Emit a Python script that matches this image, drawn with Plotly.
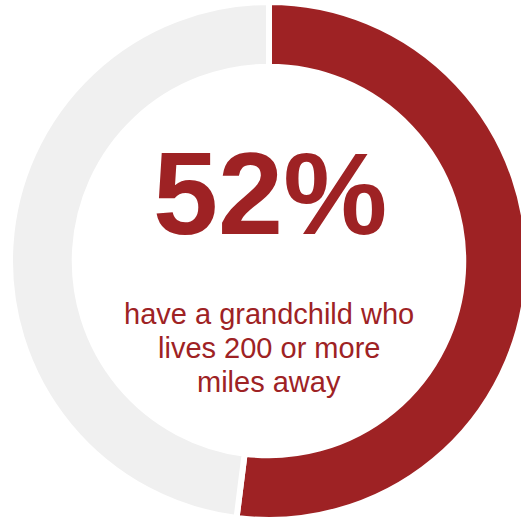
import plotly.graph_objects as go

labels = ["200+ miles away", "Other"]
values = [52, 48]
colors = ["#9E2224", "#F0F0F0"]
headline = "52%"
sub_lines = ["have a grandchild who", "lives 200 or more", "miles away"]

W, H = 530, 522
cx, cy, R = 269, 261, 259

fig = go.Figure(go.Pie(
    labels=labels, values=values, sort=False, direction="clockwise", rotation=0,
    hole=0.75,
    marker=dict(colors=colors, line=dict(color="white", width=6)),
    textinfo="none", hoverinfo="skip", showlegend=False,
    domain=dict(x=[(cx - R) / W, (cx + R) / W],
                y=[1 - (cy + R) / H, 1 - (cy - R) / H]),
))

font = "Liberation Sans, Arial, sans-serif"
red = "#9E2224"
fig.add_annotation(text="<b>" + headline + "</b>", x=269.5 / W, y=1 - 193 / H,
                   xref="paper", yref="paper", xanchor="center", yanchor="middle",
                   showarrow=False, font=dict(family=font, size=117, color=red))
for i, line in enumerate(sub_lines):
    ypx = 314 + i * 33.8
    fig.add_annotation(text=line, x=269 / W, y=1 - ypx / H,
                       xref="paper", yref="paper", xanchor="center", yanchor="middle",
                       showarrow=False, font=dict(family=font, size=29, color=red))

fig.update_layout(width=W, height=H, margin=dict(l=0, r=0, t=0, b=0),
                  paper_bgcolor="white", plot_bgcolor="white")
fig.write_html("out.html", config={"displayModeBar": False},
               post_script="document.body.style.margin='0';document.body.style.overflow='hidden';")
